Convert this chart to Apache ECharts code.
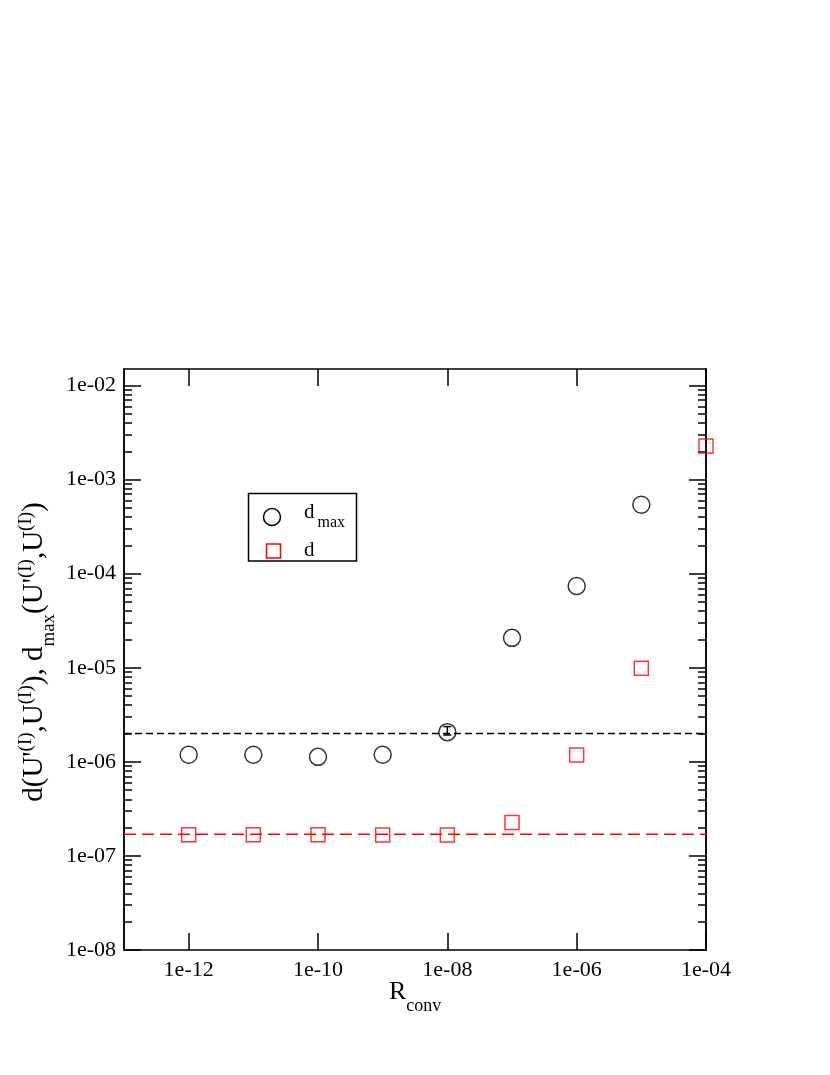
<!DOCTYPE html>
<html><head><meta charset="utf-8">
<script src="https://cdn.jsdelivr.net/npm/echarts@6/dist/echarts.min.js"></script>
<style>html,body{margin:0;padding:0;background:#fff}#c{width:830px;height:1075px}</style>
</head><body><div id="c"></div>
<script>
// ---- data ----
const rconvDmax = [1e-12, 1e-11, 1e-10, 1e-9, 1e-8, 1e-7, 1e-6, 1e-5];
const dmaxValues = [1.19e-6, 1.19e-6, 1.13e-6, 1.19e-6, 2.07e-6, 2.08e-5, 7.4e-5, 5.4e-4];
const rconvD = [1e-12, 1e-11, 1e-10, 1e-9, 1e-8, 1e-7, 1e-6, 1e-5, 1e-4];
const dValues = [1.68e-7, 1.68e-7, 1.68e-7, 1.67e-7, 1.67e-7, 2.27e-7, 1.18e-6, 9.9e-6, 2.28e-3];
const errX = [1e-8];
const errLow = [1.93e-6];
const errHigh = [2.37e-6];
const dmaxRefLevel = 2.0e-6;
const dRefLevel = 1.7e-7;
const xTickValues = [1e-12, 1e-10, 1e-8, 1e-6, 1e-4];
const xTickLabels = ['1e-12', '1e-10', '1e-08', '1e-06', '1e-04'];
const yTickValues = [1e-8, 1e-7, 1e-6, 1e-5, 1e-4, 1e-3, 1e-2];
const yTickLabels = ['1e-08', '1e-07', '1e-06', '1e-05', '1e-04', '1e-03', '1e-02'];
const yMinorMultipliers = [2, 3, 4, 5, 6, 7, 8, 9];
const xRange = [1e-13, 1e-4];
const yRange = [1e-8, 0.015];

// ---- helpers ----
const FONT = '"Liberation Serif","Times New Roman",serif';
const yMinorValues = [];
yTickValues.forEach(v => yMinorMultipliers.forEach(m => { const t = m * v; if (t < yRange[1]) yMinorValues.push(t); }));
function labelFor(vals, labels) {
  return v => { const i = vals.findIndex(t => Math.abs(Math.log10(t) - Math.log10(v)) < 1e-6); return i >= 0 ? labels[i] : ''; };
}
const ctx = document.createElement('canvas').getContext('2d');
function tw(t, size) { ctx.font = size + 'px ' + FONT; return ctx.measureText(t).width; }
// tokens: [text, size, baselineOffset, gapBefore]; returns text elements along local +x
function tokens(list, color, z) {
  let x = 0; const out = [];
  list.forEach(([t, size, dy, gap]) => {
    x += gap || 0;
    out.push({ type: 'text', x: x, y: dy - 0.33 * size, z: z || 0, style: { text: t, font: size + 'px ' + FONT, fill: color || '#000', align: 'left', verticalAlign: 'middle' } });
    x += tw(t, size);
  });
  return { els: out, width: x };
}

const AX = { color: '#000', width: 1.5 };
function xAxisDef(pos, labels) {
  return {
    type: 'log', logBase: 10, position: pos, min: xRange[0], max: xRange[1],
    axisLine: { show: true, lineStyle: AX }, splitLine: { show: false }, minorTick: { show: false },
    axisTick: { show: true, inside: true, length: 17, lineStyle: AX, customValues: xTickValues },
    axisLabel: labels ? { show: true, customValues: xTickValues, formatter: labelFor(xTickValues, xTickLabels), fontFamily: FONT, fontSize: 22, color: '#000', margin: 9 } : { show: false }
  };
}
function yAxisDef(pos, major, labels) {
  return {
    type: 'log', logBase: 10, position: pos, min: yRange[0], max: yRange[1],
    axisLine: { show: true, lineStyle: AX }, splitLine: { show: false }, minorTick: { show: false },
    axisTick: { show: true, inside: true, length: major ? 17 : 8, lineStyle: AX, customValues: major ? yTickValues : yMinorValues },
    axisLabel: labels ? { show: true, customValues: yTickValues, formatter: labelFor(yTickValues, yTickLabels), fontFamily: FONT, fontSize: 22, color: '#000', margin: 8 } : { show: false }
  };
}

const M = 29, S = 19, B = 19;
const yTitle = tokens([
  ['d(U\'', M, 0], ['(I)', S, -12], [',U', M, 0], ['(I)', S, -12], ['), d', M, 0], ['max', B, 11],
  ['(U\'', M, 0], ['(I)', S, -12], [',U', M, 0], ['(I)', S, -12], [')', M, 0]
]);
const xTitle = tokens([['R', 26, 0], ['conv', 18, 11]]);
const leg1 = tokens([['d', 21, 0], ['max', 16, 9, 3]], '#000', 12);
const leg2 = tokens([['d', 21, 0]], '#000', 12);
const yTitleStart = 652 + yTitle.width / 2;

const chart = echarts.init(document.getElementById('c'), null, { renderer: 'canvas' });
chart.setOption({
  animation: false,
  backgroundColor: '#fff',
  grid: { left: 124, top: 369, right: 124, bottom: 125, containLabel: false },
  xAxis: [xAxisDef('bottom', true), xAxisDef('top', false)],
  yAxis: [yAxisDef('left', true, true), yAxisDef('left', false, false), yAxisDef('right', true, false), yAxisDef('right', false, false)],
  series: [
    { name: 'dmax', type: 'scatter', symbol: 'circle', symbolSize: 17, z: 3,
      data: rconvDmax.map((x, i) => [x, dmaxValues[i]]),
      itemStyle: { color: 'rgba(0,0,0,0)', borderColor: '#000', borderWidth: 1.5 }, emphasis: { disabled: true } },
    { name: 'd', type: 'scatter', symbol: 'rect', symbolSize: 14, z: 3,
      data: rconvD.map((x, i) => [x, dValues[i]]),
      itemStyle: { color: 'rgba(0,0,0,0)', borderColor: '#ff0000', borderWidth: 1.5 }, emphasis: { disabled: true } },
    { name: 'dmaxRef', type: 'line', symbol: 'none', z: 4, silent: true,
      data: [[xRange[0], dmaxRefLevel], [xRange[1], dmaxRefLevel]],
      lineStyle: { color: '#000', width: 1.5, type: [7, 4] } },
    { name: 'dRef', type: 'line', symbol: 'none', z: 4, silent: true,
      data: [[xRange[0], dRefLevel], [xRange[1], dRefLevel]],
      lineStyle: { color: '#ff0000', width: 1.5, type: [12, 6] } },
    { name: 'err', type: 'custom', z: 5, silent: true,
      data: errX.map((x, i) => [x, errLow[i], errHigh[i]]),
      renderItem: (params, api) => {
        const lo = api.coord([api.value(0), api.value(1)]);
        const hi = api.coord([api.value(0), api.value(2)]);
        const st = { stroke: '#000', lineWidth: 1.5, fill: null };
        return { type: 'group', children: [
          { type: 'line', shape: { x1: lo[0], y1: lo[1], x2: hi[0], y2: hi[1] }, style: st },
          { type: 'line', shape: { x1: lo[0] - 4, y1: lo[1], x2: lo[0] + 4, y2: lo[1] }, style: st },
          { type: 'line', shape: { x1: hi[0] - 4, y1: hi[1], x2: hi[0] + 4, y2: hi[1] }, style: st }
        ] };
      } }
  ],
  graphic: [
    { type: 'group', x: 44, y: yTitleStart, rotation: Math.PI / 2, children: yTitle.els },
    { type: 'group', x: 389, y: 1001, children: xTitle.els },
    { type: 'rect', shape: { x: 248.5, y: 493.5, width: 108, height: 67.5 }, style: { fill: '#fff', stroke: '#000', lineWidth: 1.5 }, z: 10 },
    { type: 'circle', shape: { cx: 272, cy: 517, r: 8.5 }, style: { fill: null, stroke: '#000', lineWidth: 1.5 }, z: 11 },
    { type: 'rect', shape: { x: 266.5, y: 544, width: 14, height: 14 }, style: { fill: null, stroke: '#ff0000', lineWidth: 1.5 }, z: 11 },
    { type: 'group', x: 304, y: 519, children: leg1.els },
    { type: 'group', x: 304, y: 557.5, children: leg2.els }
  ]
});
</script>
</body></html>
